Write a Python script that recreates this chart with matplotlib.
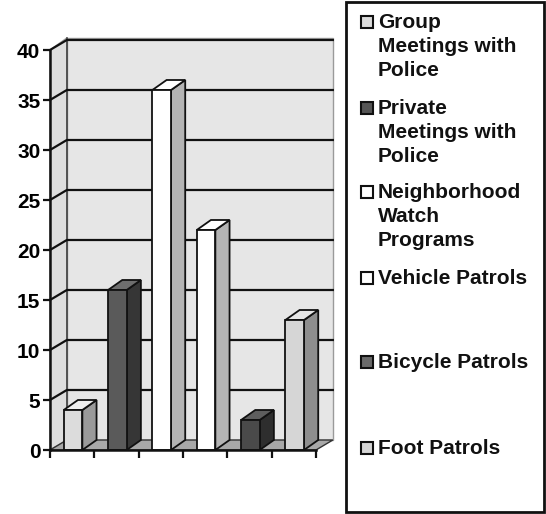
import matplotlib
matplotlib.use("Agg")
import matplotlib.pyplot as plt
from matplotlib.patches import Polygon, Rectangle

plt.rcParams["font.family"] = ["Liberation Sans", "DejaVu Sans"]
plt.rcParams["font.weight"] = "bold"

# series (one bar each) and their counts
series = [
    "Group\nMeetings with\nPolice",
    "Private\nMeetings with\nPolice",
    "Neighborhood\nWatch\nPrograms",
    "Vehicle Patrols",
    "Bicycle Patrols",
    "Foot Patrols",
]
values = [4, 16, 36, 22, 3, 13]
front_colors = ["#dcdcdc", "#5a5a5a", "#ffffff", "#ffffff", "#4a4a4a", "#d6d6d6"]
side_colors = ["#9a9a9a", "#363636", "#b4b4b4", "#b4b4b4", "#2e2e2e", "#8e8e8e"]
top_colors = ["#eeeeee", "#6e6e6e", "#ffffff", "#ffffff", "#5e5e5e", "#e6e6e6"]
key_colors = ["#dcdcdc", "#555555", "#ffffff", "#ffffff", "#6a6a6a", "#d6d6d6"]
y_ticks = [0, 5, 10, 15, 20, 25, 30, 35, 40]

YMAX = 40
WALL_DX, WALL_DY = 0.38, 1.0   # depth of the 3d box in data units
BAR_DX, BAR_DY = 0.32, 1.0
BAR_W = 0.42
BAR_OFF = 0.31

fig = plt.figure(figsize=(5.46, 5.14), dpi=100)
ax = fig.add_axes([50 / 546, 64 / 514, 266 / 546, 400 / 514])
ax.set_xlim(0, len(values))
ax.set_ylim(0, YMAX)
n = len(values)

# walls and floor
back = Polygon([(WALL_DX, WALL_DY), (n + WALL_DX, WALL_DY),
                (n + WALL_DX, YMAX + WALL_DY + 0.2), (WALL_DX, YMAX + WALL_DY + 0.2)],
               closed=True, facecolor="#e6e6e6", edgecolor="#9a9a9a", lw=1.0,
               zorder=0, clip_on=False)
side = Polygon([(0, 0), (WALL_DX, WALL_DY), (WALL_DX, YMAX + WALL_DY + 0.2), (0, YMAX)],
               closed=True, facecolor="#dedede", edgecolor="#9a9a9a", lw=1.0,
               zorder=0, clip_on=False)
floor = Polygon([(0, 0), (n, 0), (n + WALL_DX, WALL_DY), (WALL_DX, WALL_DY)],
                closed=True, facecolor="#a8a8a8", edgecolor="#333333", lw=1.0,
                zorder=1, clip_on=False)
for p in (back, side, floor):
    ax.add_patch(p)
ax.plot([WALL_DX, WALL_DX], [WALL_DY, YMAX + WALL_DY + 0.2], color="#444444",
        lw=1.2, zorder=1, clip_on=False)

# gridlines on the back and side walls
for v in y_ticks[1:]:
    ax.plot([0, WALL_DX, n + WALL_DX], [v, v + WALL_DY, v + WALL_DY],
            color="#111111", lw=1.6, zorder=2, clip_on=False)

# 3d columns
for i, (v, fc, sc, tc) in enumerate(zip(values, front_colors, side_colors, top_colors)):
    x0 = i + BAR_OFF
    x1 = x0 + BAR_W
    ax.add_patch(Polygon([(x1, 0), (x1 + BAR_DX, BAR_DY), (x1 + BAR_DX, v + BAR_DY), (x1, v)],
                         closed=True, facecolor=sc, edgecolor="#111111", lw=1.3,
                         zorder=4, clip_on=False))
    ax.add_patch(Polygon([(x0, v), (x1, v), (x1 + BAR_DX, v + BAR_DY), (x0 + BAR_DX, v + BAR_DY)],
                         closed=True, facecolor=tc, edgecolor="#111111", lw=1.3,
                         zorder=4, clip_on=False))
    ax.add_patch(Rectangle((x0, 0), BAR_W, v, facecolor=fc, edgecolor="#111111",
                           lw=1.3, zorder=5, clip_on=False))

# front axes
for s in ("top", "right"):
    ax.spines[s].set_visible(False)
for s in ("left", "bottom"):
    ax.spines[s].set_linewidth(1.8)
    ax.spines[s].set_color("#111111")
    ax.spines[s].set_zorder(6)
ax.set_facecolor("none")
ax.set_yticks(y_ticks)
ax.set_yticklabels([str(t) for t in y_ticks], fontsize=15, fontweight="bold")
ax.set_xticks(range(n + 1))
ax.set_xticklabels([])
ax.tick_params(axis="y", length=5, width=1.6, pad=2, color="#111111")
ax.tick_params(axis="x", length=6, width=1.6, color="#111111")

# legend panel
fig.add_artist(Rectangle((346 / 546, 2 / 514), 198 / 546, 510 / 514,
                         transform=fig.transFigure, facecolor="white",
                         edgecolor="#111111", lw=2.0))
legend_tops = [22, 108, 192, 278, 362, 448]
for name, kc, top in zip(series, key_colors, legend_tops):
    yc = 1 - top / 514
    fig.add_artist(Rectangle((361 / 546, yc - 6 / 514), 12 / 546, 12 / 514,
                             transform=fig.transFigure, facecolor=kc,
                             edgecolor="#111111", lw=1.5))
    fig.text(378 / 546, yc + 9 / 514, name, ha="left", va="top", fontsize=15,
             fontweight="bold", linespacing=1.32, color="#111111")

fig.savefig("out.png", dpi=100)
